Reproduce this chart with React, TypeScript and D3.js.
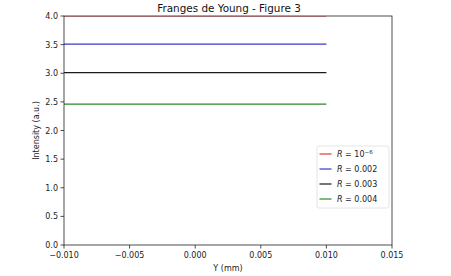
import React from "react";
import * as d3 from "d3";

const yPositions = [-0.01, 0.01];
const seriesNames = ["1e-6", "0.002", "0.003", "0.004"];
const seriesValues: number[][] = [
  [4.0, 4.0],
  [3.51, 3.51],
  [3.01, 3.01],
  [2.46, 2.46],
];
const seriesColors = ["#e03a3a", "#3838c8", "#1a1a1a", "#2a8a2a"];
const xTicks = [-0.01, -0.005, 0, 0.005, 0.01, 0.015];
const yTicks = [0, 0.5, 1, 1.5, 2, 2.5, 3, 3.5, 4];

const W = 451, H = 276;
const L = 64, R = 392, T = 16, B = 245;
const FONT = "DejaVu Sans, sans-serif";

export default function App() {
  const x = d3.scaleLinear().domain([-0.01, 0.015]).range([L, R]);
  const y = d3.scaleLinear().domain([0, 4]).range([B, T]);
  const line = d3.line<[number, number]>().x(d => x(d[0])).y(d => y(d[1]));
  const fmtX = (v: number) => d3.format(".3f")(v).replace("-", "\u2212");
  const fmtY = (v: number) => d3.format(".1f")(v);
  const legX = 317, legY = 146, legW = 72, legH = 62;
  return (
    <svg width={W} height={H} style={{ position: "absolute", left: 0, top: 0, background: "#fff" }}>
      <defs>
        <clipPath id="plotclip"><rect x={L} y={T} width={R - L} height={B - T} /></clipPath>
      </defs>
      <rect x={0} y={0} width={W} height={H} fill="#fff" />
      <text x={(L + R) / 2 + 1} y={12} textAnchor="middle" fontFamily={FONT} fontSize={10.4} fill="#111">Franges de Young - Figure 3</text>
      <g clipPath="url(#plotclip)">
        {seriesValues.map((vals, i) => (
          <path key={i} d={line(yPositions.map((p, j) => [p, vals[j]]) as [number, number][]) || ""} stroke={seriesColors[i]} strokeWidth={1.2} fill="none" />
        ))}
      </g>
      <rect x={L} y={T} width={R - L} height={B - T} fill="none" stroke="#222" strokeWidth={0.8} />
      {xTicks.map((t, i) => (
        <g key={i}>
          <line x1={x(t)} x2={x(t)} y1={B} y2={B + 3.5} stroke="#222" strokeWidth={0.8} />
          <text x={x(t)} y={B + 12.5} textAnchor="middle" fontFamily={FONT} fontSize={8} fill="#222">{fmtX(t)}</text>
        </g>
      ))}
      {yTicks.map((t, i) => (
        <g key={i}>
          <line x1={L - 3.5} x2={L} y1={y(t)} y2={y(t)} stroke="#222" strokeWidth={0.8} />
          <text x={L - 6} y={y(t) + 3} textAnchor="end" fontFamily={FONT} fontSize={8} fill="#222">{fmtY(t)}</text>
        </g>
      ))}
      <text x={(L + R) / 2} y={271} textAnchor="middle" fontFamily={FONT} fontSize={8} fill="#222">Y (mm)</text>
      <text transform={`translate(38.5,${(T + B) / 2}) rotate(-90)`} textAnchor="middle" fontFamily={FONT} fontSize={8} fill="#222">Intensity (a.u.)</text>
      <rect x={legX} y={legY} width={legW} height={legH} fill="#fff" fillOpacity={0.8} stroke="#ddd" strokeWidth={0.8} rx={2} />
      {seriesNames.map((n, i) => {
        const cy = 154 + i * 15;
        return (
          <g key={i}>
            <line x1={319.5} x2={331.5} y1={cy} y2={cy} stroke={seriesColors[i]} strokeWidth={1.2} />
            <text x={337} y={cy + 3} fontFamily={FONT} fontSize={8} fill="#222">
              <tspan fontStyle="italic">R</tspan>
              <tspan>{" = "}</tspan>
              {n === "1e-6" ? (
                <>
                  <tspan>10</tspan>
                  <tspan dy={-3.5} fontSize={5.5}>{"\u22126"}</tspan>
                </>
              ) : (
                <tspan>{n}</tspan>
              )}
            </text>
          </g>
        );
      })}
    </svg>
  );
}
